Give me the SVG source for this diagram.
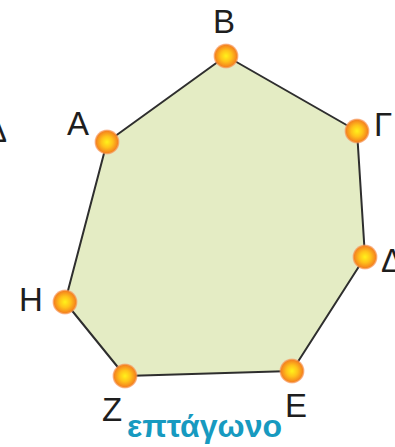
<svg xmlns="http://www.w3.org/2000/svg" width="395" height="447" viewBox="0 0 395 447">
<style>
.lbl{font-family:"Liberation Sans",Arial,sans-serif;font-size:33px;fill:#1e1e1e}
.title{font-family:"Liberation Sans",Arial,sans-serif;font-size:32px;font-weight:bold;fill:#179ac0}
.edge{fill:none;stroke:#2e2e2e;stroke-width:2;stroke-linejoin:round}
.pt{fill:url(#dot)}
</style>
<defs>
<radialGradient id="dot" cx="0.5" cy="0.5" r="0.5">
<stop offset="0" stop-color="#fff21a"/>
<stop offset="0.45" stop-color="#ffc21a"/>
<stop offset="0.85" stop-color="#f5861e"/>
<stop offset="1" stop-color="#f79a6a" stop-opacity="0.6"/>
</radialGradient>
</defs>
<rect width="395" height="447" fill="#ffffff"/>
<g id="shape">
<polygon points="107,142 226,56 357,131 365,257 292,371 125,376 65,302" fill="#e4ecc4"/>
</g>
<g id="connectors">
<polygon class="edge" points="107,142 226,56 357,131 365,257 292,371 125,376 65,302"/>
</g>
<g id="node-A"><circle class="pt" cx="107" cy="142" r="12.5"/><text class="lbl" x="67" y="135">Α</text></g>
<g id="node-B"><circle class="pt" cx="226" cy="56" r="12.5"/><text class="lbl" x="213" y="33">Β</text></g>
<g id="node-G"><circle class="pt" cx="357" cy="131" r="12.5"/><text class="lbl" x="374" y="136">Γ</text></g>
<g id="node-D"><circle class="pt" cx="365" cy="257" r="12.5"/><text class="lbl" x="381" y="272">Δ</text></g>
<g id="node-E"><circle class="pt" cx="292" cy="371" r="12.5"/><text class="lbl" x="285" y="417">Ε</text></g>
<g id="node-Z"><circle class="pt" cx="125" cy="376" r="12.5"/><text class="lbl" x="102" y="421">Ζ</text></g>
<g id="node-H"><circle class="pt" cx="65" cy="302" r="12.5"/><text class="lbl" x="19" y="311">Η</text></g>
<g id="edge-letter"><text class="lbl" x="-15" y="142">Δ</text></g>
<g id="caption"><text class="title" x="127" y="437" textLength="155" lengthAdjust="spacingAndGlyphs">επτάγωνο</text></g>
</svg>
